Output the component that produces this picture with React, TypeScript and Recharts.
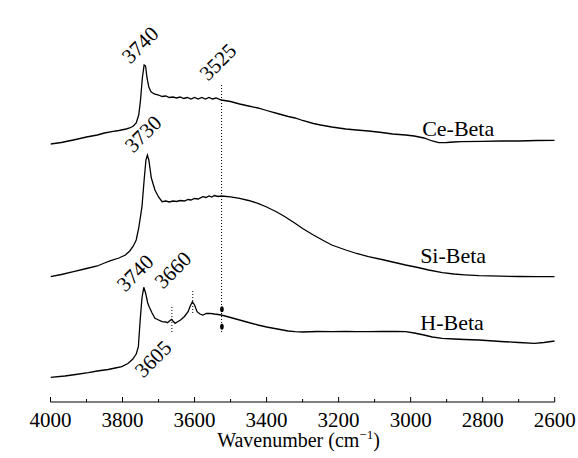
import React from 'react';
import { ComposedChart, Line, XAxis, YAxis, ReferenceLine, ReferenceDot, Label } from 'recharts';

const FONT = "'Liberation Serif', 'Times New Roman', Times, serif";
const textStyle = { fontFamily: FONT };

// Ce-Beta
const ceWavenumber = [4000, 3970, 3950, 3930, 3900, 3870, 3850, 3830, 3810, 3790, 3780, 3770, 3762, 3755, 3750, 3745, 3740, 3736, 3732, 3727, 3721, 3712, 3700, 3690, 3680, 3670, 3660, 3650, 3640, 3630, 3620, 3610, 3600, 3590, 3580, 3570, 3560, 3550, 3540, 3526, 3500, 3475, 3450, 3424, 3400, 3370, 3340, 3321, 3300, 3270, 3250, 3219, 3180, 3150, 3117, 3080, 3050, 3014, 2990, 2963, 2940, 2922, 2900, 2880, 2861, 2800, 2750, 2700, 2650, 2600];
const ceIntensity = [258, 259.5, 261, 262.5, 265, 267, 269, 270.3, 271.5, 273, 274, 276, 279, 287, 302, 324, 337, 336, 324, 315, 310.3, 308, 307, 305.5, 306, 304.5, 305, 304, 305, 303.5, 304.5, 303, 304.5, 303, 304.5, 303, 304.5, 303, 304, 302, 300.5, 298, 296, 294, 291.5, 288.5, 285.5, 284, 281.5, 278.5, 277, 275, 273, 272, 271, 269.5, 268, 267, 266, 264, 261, 259.3, 259.5, 260, 260.3, 260.7, 261, 261, 261.5, 261.7];

// Si-Beta
const siWavenumber = [4000, 3970, 3936, 3900, 3870, 3850, 3833, 3810, 3792, 3780, 3770, 3762, 3755, 3746, 3740, 3735, 3731, 3727, 3720, 3710, 3700, 3690, 3680, 3670, 3660, 3650, 3640, 3628, 3618, 3610, 3600, 3590, 3577, 3568, 3560, 3552, 3545, 3535, 3526, 3500, 3475, 3450, 3424, 3400, 3373, 3350, 3321, 3300, 3270, 3240, 3219, 3180, 3150, 3117, 3080, 3050, 3014, 2980, 2950, 2912, 2880, 2850, 2810, 2750, 2700, 2650, 2600];
const siIntensity = [125.3, 127.5, 130.3, 133.5, 136, 139, 141.3, 144, 147, 151, 156, 162, 174, 195.3, 222, 242, 247, 242, 224, 212, 205, 200.3, 201, 200, 201, 200.5, 201.5, 201, 202.5, 202, 203.5, 203, 205.3, 204.5, 206, 205, 206.5, 205.5, 206, 205.2, 203.7, 201.5, 198.7, 195, 190.3, 185.5, 178.7, 173.5, 167, 161, 157, 152, 148.5, 145.3, 142.5, 140, 137, 134.5, 132, 129.3, 128, 127.2, 126.3, 125.8, 125.5, 125.3, 125.3];

// H-Beta
const hWavenumber = [4000, 3960, 3930, 3895, 3870, 3840, 3820, 3802, 3785, 3772, 3762, 3756, 3751, 3746, 3741, 3736, 3730, 3726, 3718, 3710, 3700, 3690, 3680, 3675, 3668, 3664, 3660, 3654, 3646, 3639, 3628, 3618, 3612, 3606, 3600, 3593, 3585, 3577, 3567, 3557, 3545, 3535, 3526, 3500, 3475, 3450, 3424, 3400, 3370, 3340, 3321, 3300, 3260, 3219, 3180, 3150, 3117, 3080, 3040, 3014, 2990, 2963, 2940, 2912, 2880, 2850, 2810, 2750, 2700, 2656, 2630, 2600];
const hIntensity = [24.7, 26, 27.5, 29.3, 31, 32.5, 34, 35.3, 38.5, 42.7, 48, 55.3, 82, 104, 114.7, 109, 99, 95.3, 89, 83.7, 82, 80.3, 80, 79.3, 81.5, 82.7, 81, 78.7, 80.5, 82, 85.5, 90.3, 96, 100.3, 97, 90.3, 88, 87, 88.5, 88.7, 88, 87.5, 87, 84.5, 82, 79.5, 77, 75, 73, 71, 70.3, 70, 70.5, 70.3, 70.5, 70.3, 70.3, 70.5, 70.5, 70.3, 69, 67, 65, 63.7, 63, 62.5, 62, 60.5, 59.5, 58.7, 59.5, 61];

const xTicks = [4000, 3900, 3800, 3700, 3600, 3500, 3400, 3300, 3200, 3100, 3000, 2900, 2800, 2700, 2600];
const xDomain = [2600, 4000];
const yDomain = [0, 389];

// Curve names with label anchor (wavenumber, intensity)
const seriesNames = ['Ce-Beta', 'Si-Beta', 'H-Beta'];
const nameX = [2868, 2882, 2885];
const nameY = [274, 147, 80];

// Peak annotations (rotated)
const peakText = ['3740', '3525', '3730', '3740', '3660', '3605'];
const peakX = [3751, 3535, 3743, 3765, 3660, 3715];
const peakY = [357, 340, 268, 129, 132, 43];

// Dotted marker lines: x, y from, y to
const markerX = [3525, 3663, 3605];
const markerY1 = [317, 95, 111];
const markerY2 = [69, 70, 87];
const blobX = [3524, 3524];
const blobY = [92.7, 75.3];

const toData = (xs: number[], ys: number[]) => xs.map((x, i) => ({ x, y: ys[i] }));
const ceData = toData(ceWavenumber, ceIntensity);
const siData = toData(siWavenumber, siIntensity);
const hData = toData(hWavenumber, hIntensity);

const BottomTick = (props: any) => {
  const { x, y, payload } = props;
  const major = payload.value % 200 === 0;
  return (
    <g>
      <line x1={x} x2={x} y1={y} y2={y - (major ? 5 : 3)} stroke="#000" strokeWidth={1} />
      {major && (
        <text x={x} y={y + 25} textAnchor="middle" fontSize={21} style={textStyle} fill="#000">
          {payload.value}
        </text>
      )}
    </g>
  );
};

const TopTick = (props: any) => {
  const { x, y } = props;
  return <line x1={x} x2={x} y1={y} y2={y + 2} stroke="#000" strokeWidth={1} />;
};

export default function App() {
  return (
    <div style={{ position: 'absolute', left: 0, top: 0, background: '#fff' }}>
      <ComposedChart width={578} height={458} margin={{ top: 13, right: 23.3, left: 50.5, bottom: 26 }}>
        <XAxis
          type="number"
          dataKey="x"
          domain={xDomain}
          reversed
          ticks={xTicks}
          interval={0}
          allowDataOverflow
          height={30}
          tickSize={0}
          tickMargin={0}
          tickLine={false}
          axisLine={{ stroke: '#000', strokeWidth: 1.2 }}
          tick={<BottomTick />}
        >
          <Label
            content={() => (
              <text x={298.5} y={447} textAnchor="middle" fontSize={20} style={textStyle} fill="#000">
                Wavenumber (cm
                <tspan fontSize={13} dy={-8}>−1</tspan>
                <tspan dy={8}>)</tspan>
              </text>
            )}
          />
        </XAxis>
        <XAxis
          xAxisId="top"
          orientation="top"
          type="number"
          dataKey="x"
          domain={xDomain}
          reversed
          ticks={xTicks}
          interval={0}
          height={0}
          tickSize={0}
          tickMargin={0}
          tickLine={false}
          axisLine={{ stroke: '#000', strokeWidth: 1.2 }}
          tick={<TopTick />}
        />
        <YAxis
          type="number"
          domain={yDomain}
          width={0}
          tick={false}
          tickLine={false}
          axisLine={{ stroke: '#000', strokeWidth: 1.2 }}
        >
          <Label
            content={() => (
              <text
                x={19}
                y={227}
                textAnchor="middle"
                dominantBaseline="central"
                fontSize={20}
                style={textStyle}
                fill="#000"
                transform="rotate(-90, 19, 227)"
              >
                Intensity
              </text>
            )}
          />
        </YAxis>
        <YAxis
          yAxisId="r"
          orientation="right"
          type="number"
          domain={yDomain}
          width={0}
          tick={false}
          tickLine={false}
          axisLine={{ stroke: '#000', strokeWidth: 1.2 }}
        />
        {markerX.map((mx, i) => (
          <ReferenceLine
            key={'m' + i}
            segment={[{ x: mx, y: markerY1[i] }, { x: mx, y: markerY2[i] }]}
            stroke="#000"
            strokeWidth={1}
            strokeDasharray="1 2"
          />
        ))}
        <Line data={ceData} dataKey="y" type="linear" dot={false} stroke="#000" strokeWidth={1.3} isAnimationActive={false} />
        <Line data={siData} dataKey="y" type="linear" dot={false} stroke="#000" strokeWidth={1.3} isAnimationActive={false} />
        <Line data={hData} dataKey="y" type="linear" dot={false} stroke="#000" strokeWidth={1.3} isAnimationActive={false} />
        {blobX.map((bx, i) => (
          <ReferenceDot
            key={'b' + i}
            x={bx}
            y={blobY[i]}
            shape={(p: any) => <ellipse cx={p.cx} cy={p.cy} rx={1.8} ry={3} fill="#000" />}
          />
        ))}
        {seriesNames.map((n, i) => (
          <ReferenceDot
            key={'n' + i}
            x={nameX[i]}
            y={nameY[i]}
            shape={(p: any) => (
              <text x={p.cx} y={p.cy} textAnchor="middle" dominantBaseline="central" fontSize={22} style={textStyle} fill="#000">
                {n}
              </text>
            )}
          />
        ))}
        {peakText.map((t, i) => (
          <ReferenceDot
            key={'p' + i}
            x={peakX[i]}
            y={peakY[i]}
            shape={(p: any) => (
              <text
                x={p.cx}
                y={p.cy}
                textAnchor="middle"
                dominantBaseline="central"
                fontSize={21}
                style={textStyle}
                fill="#000"
                transform={`rotate(-45, ${p.cx}, ${p.cy})`}
              >
                {t}
              </text>
            )}
          />
        ))}
      </ComposedChart>
    </div>
  );
}
